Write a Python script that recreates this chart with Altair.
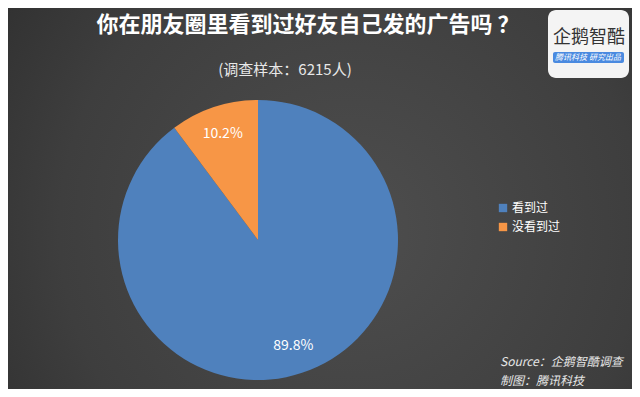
import altair as alt
import pandas as pd

categories = ["看到过", "没看到过"]
shares = [89.8, 10.2]
slice_order = [0, 1]
slice_labels = ["89.8%", "10.2%"]
colors = ["#4f81bd", "#f79646"]

title_text = "你在朋友圈里看到过好友自己发的广告吗 ？"
subtitle_text = "(调查样本：6215人)"
source_lines = ["Source：企鹅智酷调查", "制图：腾讯科技"]

W, H = 624, 381
CX, CY, R = 250, 232, 140
FONT = "Noto Sans CJK SC"

df = pd.DataFrame({"cat": categories, "share": shares, "ord": slice_order, "lab": slice_labels})
one = pd.DataFrame({"k": [0]})

bg = alt.Chart(one).mark_rect(
    color=alt.Gradient(
        gradient="radial",
        stops=[alt.GradientStop(color="#4e4e4e", offset=0),
               alt.GradientStop(color="#3e3e3e", offset=0.55),
               alt.GradientStop(color="#262626", offset=1)],
        x1=0.55, y1=0.55, x2=0.55, y2=0.55, r1=0, r2=0.85),
).encode(x=alt.value(0), x2=alt.value(W), y=alt.value(0), y2=alt.value(H))

base = alt.Chart(df).encode(
    theta=alt.Theta("share:Q", stack=True),
    order=alt.Order("ord:Q"),
)

pie = base.mark_arc(outerRadius=R).encode(
    x=alt.value(CX), y=alt.value(CY),
    color=alt.Color("cat:N", scale=alt.Scale(domain=categories, range=colors),
                    sort=categories,
                    legend=alt.Legend(title=None, orient="none", legendX=489, legendY=194,
                                      symbolType="square", symbolSize=70, symbolStrokeWidth=0,
                                      labelColor="#ffffff", labelFontSize=12, labelFont=FONT,
                                      rowPadding=7, symbolOffset=0, labelOffset=3)),
)

labels = base.mark_text(radius=112, fontSize=14, font=FONT, color="#ffffff").encode(
    x=alt.value(CX), y=alt.value(CY), text="lab:N",
)

title = alt.Chart(one).mark_text(text=title_text, fontSize=22, fontWeight="bold", font=FONT,
                                 color="#ffffff", align="center", baseline="middle").encode(
    x=alt.value(300), y=alt.value(17))
subtitle = alt.Chart(one).mark_text(text=subtitle_text, fontSize=15, font=FONT,
                                    color="#e8e8e8", align="center", baseline="middle").encode(
    x=alt.value(277), y=alt.value(62))

src1 = alt.Chart(one).mark_text(text=source_lines[0],
    fontSize=12, font=FONT, fontStyle="italic", color="#e6e6e6", align="left", baseline="middle"
).encode(x=alt.value(492), y=alt.value(354))
src2 = alt.Chart(one).mark_text(text=source_lines[1],
    fontSize=12, font=FONT, fontStyle="italic", color="#e6e6e6", align="left", baseline="middle"
).encode(x=alt.value(492), y=alt.value(373))

logo_box = alt.Chart(one).mark_rect(color="#f4f4f4", cornerRadius=8).encode(
    x=alt.value(540), x2=alt.value(621), y=alt.value(2), y2=alt.value(70))
logo_txt = alt.Chart(one).mark_text(text="企鹅智酷", fontSize=18, font=FONT, color="#333333",
                                    align="center", baseline="middle").encode(
    x=alt.value(581), y=alt.value(30))
logo_bar = alt.Chart(one).mark_rect(color="#4a8ae0", cornerRadius=2).encode(
    x=alt.value(545), x2=alt.value(616), y=alt.value(44), y2=alt.value(55))
logo_bar_txt = alt.Chart(one).mark_text(text="腾讯科技  研究出品", fontSize=8, font=FONT,
                                        fontStyle="italic", color="#ffffff", align="center",
                                        baseline="middle").encode(
    x=alt.value(580), y=alt.value(50))

chart = alt.layer(bg, pie, labels, title, subtitle, src1, src2, logo_box, logo_txt, logo_bar, logo_bar_txt).properties(
    width=W, height=H, padding=0, autosize=alt.AutoSizeParams(type="none"), background="#2e2e2e",
).configure_view(stroke=None)

chart.save("out.html", embed_options={"renderer": "svg", "actions": False})
